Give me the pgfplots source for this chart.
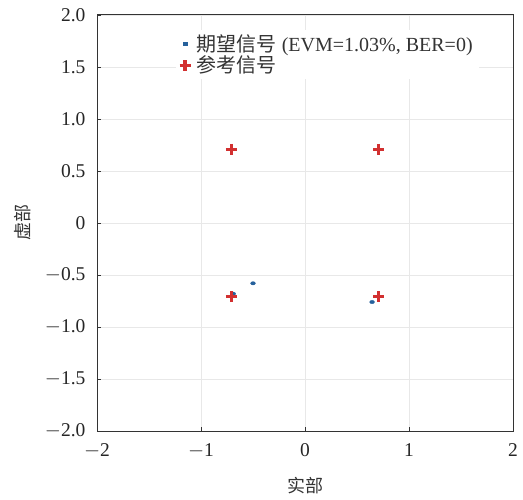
\documentclass[border=0pt]{standalone}
\usepackage{fontspec}
\setmainfont{Liberation Serif}
\newfontfamily\cjk{Noto Sans CJK SC}
\usepackage{pgfplots}
\pgfplotsset{compat=1.18}
\definecolor{myblue}{RGB}{38,97,156}
\definecolor{myred}{RGB}{210,48,48}
\begin{document}
\begin{tikzpicture}
\begin{axis}[
  scale only axis,
  width=416pt, height=416pt,
  xmin=-2, xmax=2, ymin=-2, ymax=2,
  xtick={-2,-1,0,1,2},
  ytick={-2,-1.5,-1,-0.5,0,0.5,1,1.5,2},
  yticklabels={$-$2.0,$-$1.5,$-$1.0,$-$0.5,0,0.5,1.0,1.5,2.0},
  xticklabels={$-$2,$-$1,0,1,2},
  tick align=inside,
  tick style={black!80, line width=0.9pt},
  major tick length=4pt,
  xtick pos=bottom, ytick pos=left,
  grid=major,
  grid style={gray!18, line width=0.7pt},
  axis line style={black!80, line width=1pt},
  tick label style={font=\fontsize{19.5}{19.5}\selectfont, text=black!85},
  yticklabel style={xshift=-8pt},
  xticklabel style={yshift=-9pt},
  xlabel={\cjk 实部}, ylabel={\cjk 虚部},
  label style={font=\fontsize{18}{18}\selectfont, text=black!80},
  xlabel style={at={(axis description cs:0.5,-0.13)}, anchor=center},
  ylabel style={at={(axis description cs:-0.18,0.5)}, anchor=center},
  legend style={at={(0.189,0.965)}, anchor=north west, draw=none, fill=white,
    font=\fontsize{20}{22}\selectfont, text=black!80, inner xsep=2pt, inner ysep=3pt,
    row sep=-1pt, nodes={inner xsep=4.5pt}},
  legend cell align=left,
]
\addplot[only marks, mark=*, mark size=2.4pt, mark options={yscale=0.7}, color=myblue,
  legend image code/.code={\fill[myblue] (0.3cm-10.7pt,-1.7pt) rectangle (0.3cm-7.3pt,1.7pt);}] coordinates {
(-0.50,-0.58) (0.645,-0.76) (-0.69,-0.68)
};
\addlegendentry{\cjk 期望信号\rmfamily\ (EVM=1.03\%, BER=0)}
\addplot[only marks, mark=+, mark size=5.5pt, line width=3.5pt, color=myred,
  legend image code/.code={\draw[myred, line width=3.5pt] (0.3cm-14.5pt,0) -- (0.3cm-3.5pt,0) (0.3cm-9pt,-5.5pt) -- (0.3cm-9pt,5.5pt);}] coordinates {
(-0.707,0.707) (0.707,0.707) (-0.707,-0.707) (0.707,-0.707)
};
\addlegendentry{\cjk 参考信号}
\end{axis}
\pgfresetboundingbox
\path[use as bounding box] ([shift={(-97pt,-68pt)}]current axis.south west) rectangle ([shift={(10pt,15pt)}]current axis.north east);
\end{tikzpicture}
\end{document}
